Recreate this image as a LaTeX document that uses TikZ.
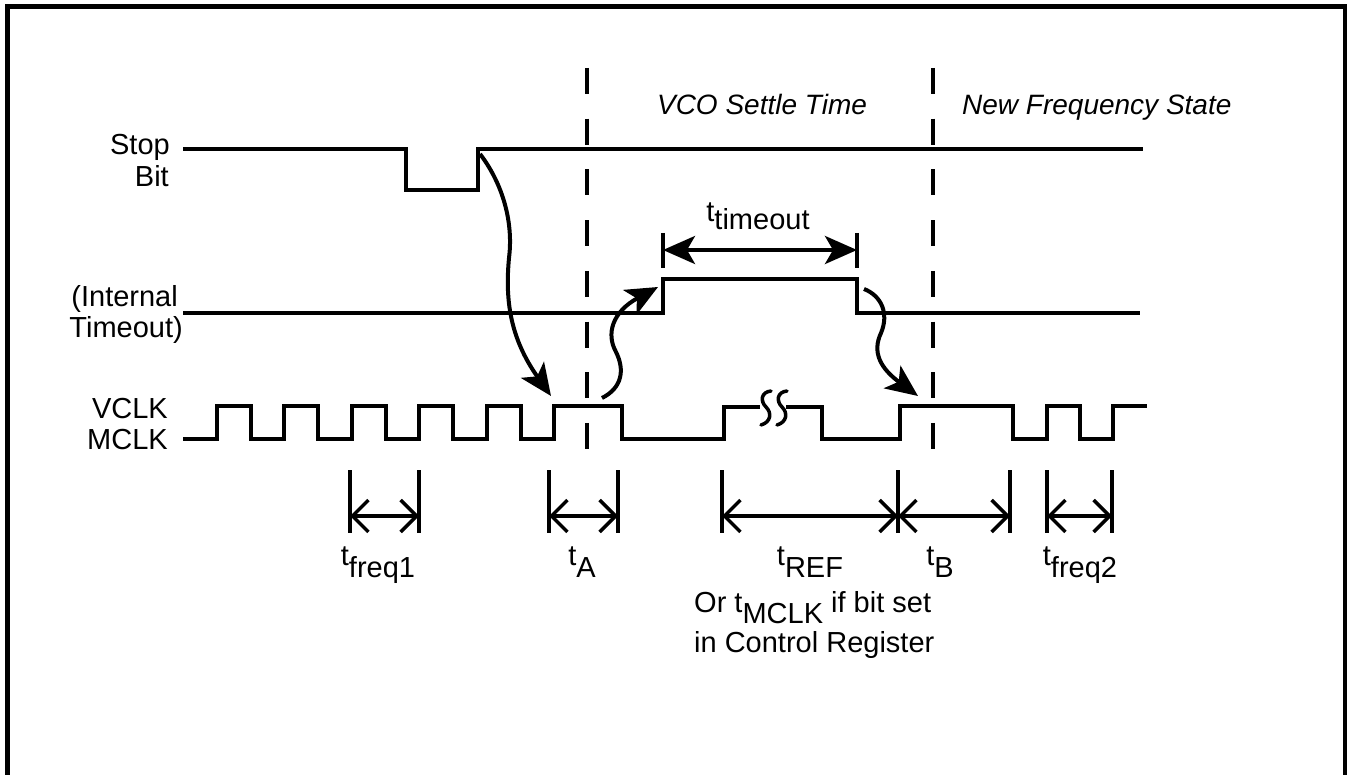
\documentclass[tikz,border=0pt]{standalone}
\usepackage{fontspec}
\setmainfont{Liberation Sans}
\usetikzlibrary{arrows.meta}
\begin{document}
\begin{tikzpicture}[x=1pt,y=-1pt,
  wave/.style={line width=4pt, line join=miter},
  vdash/.style={line width=4pt, dash pattern=on 26pt off 24.7pt},
  cause/.style={line width=4pt, -{Stealth[length=32pt,width=28pt,inset=8pt]}},
  span/.style={line width=4pt, {Stealth[length=32pt,width=28pt,inset=8pt]}-{Stealth[length=32pt,width=28pt,inset=8pt]}},
  meas/.style={line width=3.5pt, {Straight Barb[length=16pt,width=32pt]}-{Straight Barb[length=16pt,width=32pt]}},
  tick/.style={line width=3.5pt},
  brk/.style={line width=3.5pt, line cap=round},
  lbl/.style={font=\fontsize{29}{34}\selectfont, inner sep=0pt},
  ilbl/.style={font=\fontsize{28}{33}\selectfont\itshape, inner sep=0pt},
  frame/.style={line width=4.5pt}]
\useasboundingbox (0,0) rectangle (1348,775);
% frame (open at bottom)
\draw[frame] (7.5,775) -- (7.5,6.5) -- (1345,6.5) -- (1345,775);

% phase separators
\draw[vdash] (587,68) coordinate (d1t) -- (587,449) coordinate (d1b);
\draw[vdash] (933,68) coordinate (d2t) -- (933,449) coordinate (d2b);

% region labels
\node[ilbl, anchor=base] (vco) at (762,115) {VCO Settle Time};
\node[ilbl, anchor=base west] (nfs) at (962,115) {New Frequency State};

% signal names
\node[lbl, anchor=base east] (stop) at (170,155) {Stop};
\node[lbl, anchor=base east] (bit) at (169,187) {Bit};
\node[lbl, anchor=base east] (int) at (178,306) {(Internal};
\node[lbl, anchor=base east] (tmo) at (183,337) {Timeout)};
\node[lbl, anchor=base east] (vclk) at (168,418) {VCLK};
\node[lbl, anchor=base east] (mclk) at (168,449) {MCLK};

% Stop Bit
\draw[wave] (183,149) -- (406,149) -- (406,190) -- (478,190) -- (478,149) -- (1143,149);
\coordinate (sbrise) at (480,154);

% Internal Timeout
\draw[wave] (183,313) -- (663,313) -- (663,279) -- (857,279) -- (857,313) -- (1140,313);
\coordinate (ittip) at (658,287);
\coordinate (itfall) at (864,289);

% VCLK / MCLK
\draw[wave] (183,439) -- (217,439) -- (217,406) -- (251,406) -- (251,439) -- (284,439) -- (284,406)
  -- (318,406) -- (318,439) -- (352,439) -- (352,406) -- (386,406) -- (386,439) -- (419,439)
  -- (419,406) -- (453,406) -- (453,439) -- (487,439) -- (487,406) -- (521,406) -- (521,439)
  -- (554,439) -- (554,406) -- (622,406) -- (622,439) -- (724,439) -- (724,407) -- (760,407);
\draw[wave] (786,407) -- (822,407) -- (822,439) -- (900,439) -- (900,406) -- (1013,406)
  -- (1013,439) -- (1047,439) -- (1047,406) -- (1080,406) -- (1080,439) -- (1113,439)
  -- (1113,406) -- (1147,406);
% break marks
\draw[brk] (771,391) .. controls (761,392) and (760,401) .. (766,407) .. controls (772,413) and (771,422) .. (761,425);
\draw[brk] (787,391) .. controls (777,392) and (776,401) .. (782,407) .. controls (788,413) and (787,422) .. (777,425);
\coordinate (cktip1) at (551,396);
\coordinate (ckhi) at (602,398);
\coordinate (cktip2) at (918,396);

% cause arrows
\draw[cause] (sbrise) .. controls (500,180) and (514,218) .. (509,258)
  .. controls (505,300) and (510,338) .. (cktip1);
\draw[cause] (ckhi) .. controls (622,388) and (625,370) .. (616,352)
  .. controls (606,334) and (612,312) .. (ittip);
\draw[cause] (itfall) .. controls (882,296) and (889,314) .. (881,333)
  .. controls (872,352) and (880,368) .. (cktip2);

% t_timeout
\draw[tick] (663,233) coordinate (tt1) -- (663,268);
\draw[tick] (857,233) coordinate (tt2) -- (857,268);
\coordinate (ta) at (663,250); \coordinate (tb) at (857,250);
\draw[span] (ta) -- (tb);
\node[lbl, anchor=base] (ttimeout) at (758,222) {t\raisebox{-8pt}{timeout}};

% measurement ticks
\foreach \x/\n in {350/m1,419/m2,549/m3,618/m4,722/m5,898/m6,1010/m7,1047/m8,1112/m9}{
  \draw[tick] (\x,470) -- (\x,533);
  \coordinate (\n) at (\x,516);
}
\draw[meas] (m1) -- (m2);
\draw[meas] (m3) -- (m4);
\draw[meas] (m5) -- (m6);
\draw[meas] (m6) -- (m7);
\draw[meas] (m8) -- (m9);

\node[lbl, anchor=base] (lf1) at (378,565) {t\raisebox{-12pt}{freq1}};
\node[lbl, anchor=base] (lA) at (582,565) {t\raisebox{-12pt}{A}};
\node[lbl, anchor=base] (lREF) at (810,565) {t\raisebox{-12pt}{REF}};
\node[lbl, anchor=base] (lB) at (940,565) {t\raisebox{-12pt}{B}};
\node[lbl, anchor=base] (lf2) at (1080,565) {t\raisebox{-12pt}{freq2}};
\node[lbl, anchor=base west] (or) at (694,612) {Or t\raisebox{-11pt}{MCLK} if bit set};
\node[lbl, anchor=base west] (ctl) at (694,652) {in Control Register};
\end{tikzpicture}
\end{document}
